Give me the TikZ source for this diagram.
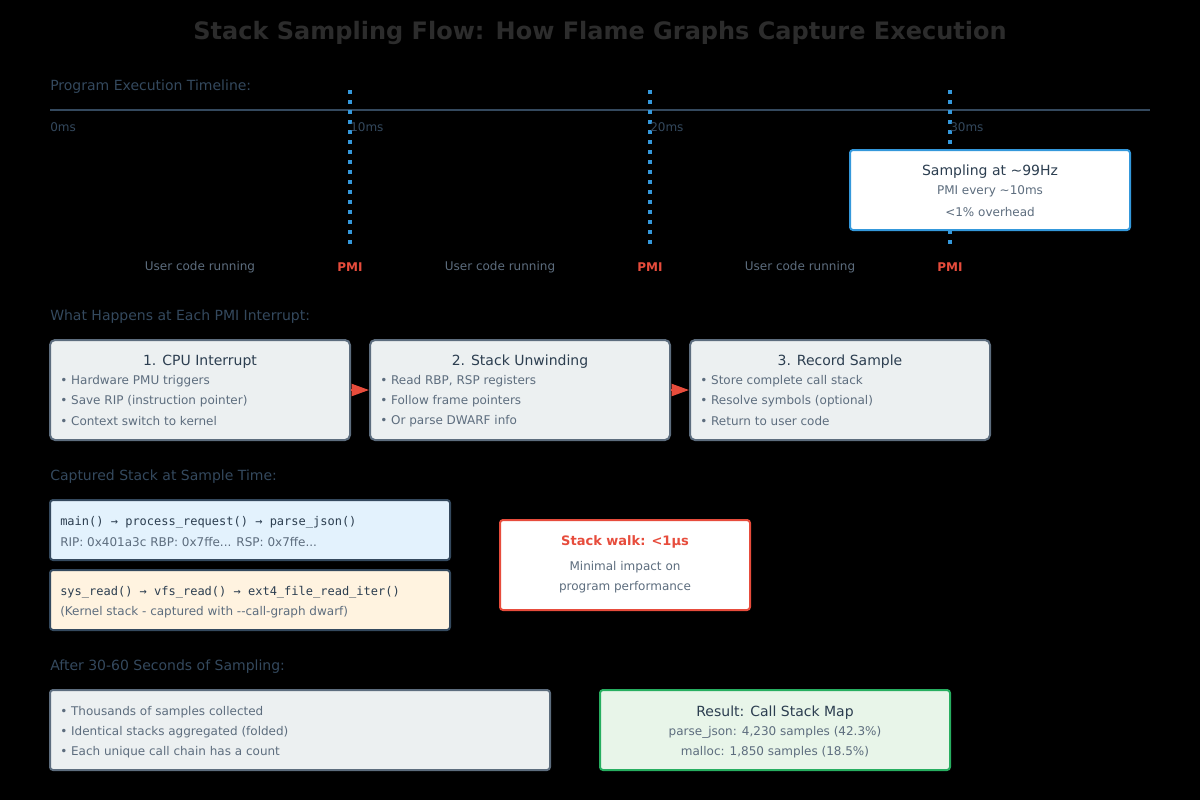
\documentclass[tikz,border=0pt]{standalone}
\usepackage{fontspec}
\setmainfont{DejaVu Sans}
\setmonofont{DejaVu Sans Mono}
\usetikzlibrary{arrows.meta}
\definecolor{titlec}{HTML}{2C2C2C}
\definecolor{headc}{HTML}{34495E}
\definecolor{greyc}{HTML}{5D6D7E}
\definecolor{darkc}{HTML}{2C3E50}
\definecolor{bluec}{HTML}{3498DB}
\definecolor{redc}{HTML}{E74C3C}
\definecolor{boxfill}{HTML}{ECF0F1}
\definecolor{boxline}{HTML}{5D6D7E}
\definecolor{lblue}{HTML}{E3F2FD}
\definecolor{lorange}{HTML}{FFF3E0}
\definecolor{lgreen}{HTML}{E8F5E9}
\definecolor{greenc}{HTML}{27AE60}
\newcommand{\fs}[1]{\fontsize{#1}{#1}\selectfont}
\begin{document}
\begin{tikzpicture}[x=0.75pt,y=-0.75pt,
  lbl/.style={inner sep=0pt,anchor=west,yshift=-1pt},
  ctr/.style={inner sep=0pt,anchor=center,yshift=-1pt},
  head/.style={lbl,text=headc,font=\fs{10.5}},
  tick/.style={lbl,text=headc,font=\fs{9}},
  usr/.style={ctr,text=greyc,font=\fs{9}},
  pmi/.style={ctr,text=redc,font=\fs{9}\bfseries},
  vdash/.style={draw=bluec,line width=2.4pt,dash pattern=on 3pt off 4.5pt},
  stepbox/.style={draw=boxline,fill=boxfill,line width=1.5pt,rounded corners=3.75pt},
  btitle/.style={ctr,text=darkc,font=\fs{10.5}},
  bul/.style={lbl,text=greyc,font=\fs{9}},
  cline/.style={ctr,text=greyc,font=\fs{9}},
  redarrow/.style={draw=redc,line width=1.5pt,-{Triangle[length=13pt,width=9pt]}},
]
\fill[black] (0,0) rectangle (1200,800);
\useasboundingbox (0,0) rectangle (1200,800);

% title
\node[ctr,text=titlec,font=\fs{18}\bfseries] (title) at (600,32) {Stack Sampling Flow: How Flame Graphs Capture Execution};

% timeline
\node[head] (h1) at (50,85) {Program Execution Timeline:};
\coordinate (tl0) at (50,110);
\coordinate (tl1) at (1150,110);
\draw[draw=headc,line width=1.5pt] (tl0) -- (tl1);
\foreach \x/\n in {350/a,650/b,950/c}{
  \coordinate (d\n0) at (\x,90);
  \coordinate (d\n1) at (\x,245);
  \draw[vdash] (d\n0) -- (d\n1);
}
\node[tick] (t0) at (50,126) {0ms};
\node[tick] (t1) at (350,126) {10ms};
\node[tick] (t2) at (650,126) {20ms};
\node[tick] (t3) at (950,126) {30ms};

\node[draw=bluec,fill=white,line width=1.5pt,rounded corners=2.25pt,minimum width=210pt,minimum height=60pt,inner sep=0pt] (samp) at (990,190) {};
\node[ctr,text=darkc,font=\fs{10.5}] (s1) at (990,170) {Sampling at \textasciitilde99Hz};
\node[cline] (s2) at (990,190) {PMI every \textasciitilde10ms};
\node[cline] (s3) at (990,211) {<1\% overhead};

\node[usr] (u1) at (200,266) {User code running};
\node[usr] (u2) at (500,266) {User code running};
\node[usr] (u3) at (800,266) {User code running};
\node[pmi] (p1) at (350,266) {PMI};
\node[pmi] (p2) at (650,266) {PMI};
\node[pmi] (p3) at (950,266) {PMI};

% PMI steps
\node[head] (h2) at (50,315) {What Happens at Each PMI Interrupt:};
\node[stepbox,minimum width=225pt,minimum height=75pt,inner sep=0pt] (b1) at (200,390) {};
\node[stepbox,minimum width=225pt,minimum height=75pt,inner sep=0pt] (b2) at (520,390) {};
\node[stepbox,minimum width=225pt,minimum height=75pt,inner sep=0pt] (b3) at (840,390) {};
\node[btitle] (b1t) at (200,360) {1. CPU Interrupt};
\node[bul] (b1a) at (60,380) {• Hardware PMU triggers};
\node[bul] (b1b) at (60,400) {• Save RIP (instruction pointer)};
\node[bul] (b1c) at (60,420) {• Context switch to kernel};
\node[btitle] (b2t) at (520,360) {2. Stack Unwinding};
\node[bul] (b2a) at (380,380) {• Read RBP, RSP registers};
\node[bul] (b2b) at (380,400) {• Follow frame pointers};
\node[bul] (b2c) at (380,420) {• Or parse DWARF info};
\node[btitle] (b3t) at (840,360) {3. Record Sample};
\node[bul] (b3a) at (700,380) {• Store complete call stack};
\node[bul] (b3b) at (700,400) {• Resolve symbols (optional)};
\node[bul] (b3c) at (700,420) {• Return to user code};
\draw[redarrow] (b1.east) -- (b2.west);
\draw[redarrow] (b2.east) -- (b3.west);

% captured stack
\node[head] (h3) at (50,475) {Captured Stack at Sample Time:};
\node[draw=headc,fill=lblue,line width=1.5pt,rounded corners=2.25pt,minimum width=300pt,minimum height=45pt,inner sep=0pt] (cs1) at (250,530) {};
\node[lbl,text=darkc,font=\ttfamily\fs{9}] (cs1a) at (60,521) {main() → process\_request() → parse\_json()};
\node[bul] (cs1b) at (60,541) {RIP: 0x401a3c RBP: 0x7ffe... RSP: 0x7ffe...};
\node[draw=headc,fill=lorange,line width=1.5pt,rounded corners=2.25pt,minimum width=300pt,minimum height=45pt,inner sep=0pt] (cs2) at (250,600) {};
\node[lbl,text=darkc,font=\ttfamily\fs{9}] (cs2a) at (60,591) {sys\_read() → vfs\_read() → ext4\_file\_read\_iter()};
\node[bul] (cs2b) at (60,611) {(Kernel stack - captured with -{}-call-graph dwarf)};

\node[draw=redc,fill=white,line width=1.5pt,rounded corners=2.25pt,minimum width=187.5pt,minimum height=67.5pt,inner sep=0pt] (sw) at (625,565) {};
\node[ctr,text=redc,font=\fs{9.75}\bfseries] (sw1) at (625,541) {Stack walk: <1µs};
\node[cline] (sw2) at (625,566) {Minimal impact on};
\node[cline] (sw3) at (625,586) {program performance};

% after sampling
\node[head] (h4) at (50,665) {After 30-60 Seconds of Sampling:};
\node[stepbox,rounded corners=2.25pt,minimum width=375pt,minimum height=60pt,inner sep=0pt] (ag) at (300,730) {};
\node[bul] (ag1) at (60,711) {• Thousands of samples collected};
\node[bul] (ag2) at (60,731) {• Identical stacks aggregated (folded)};
\node[bul] (ag3) at (60,751) {• Each unique call chain has a count};

\node[draw=greenc,fill=lgreen,line width=1.5pt,rounded corners=2.25pt,minimum width=262.5pt,minimum height=60pt,inner sep=0pt] (res) at (775,730) {};
\node[btitle] (r1) at (775,711) {Result: Call Stack Map};
\node[cline] (r2) at (775,731) {parse\_json: 4,230 samples (42.3\%)};
\node[cline] (r3) at (775,751) {malloc: 1,850 samples (18.5\%)};
\end{tikzpicture}
\end{document}
